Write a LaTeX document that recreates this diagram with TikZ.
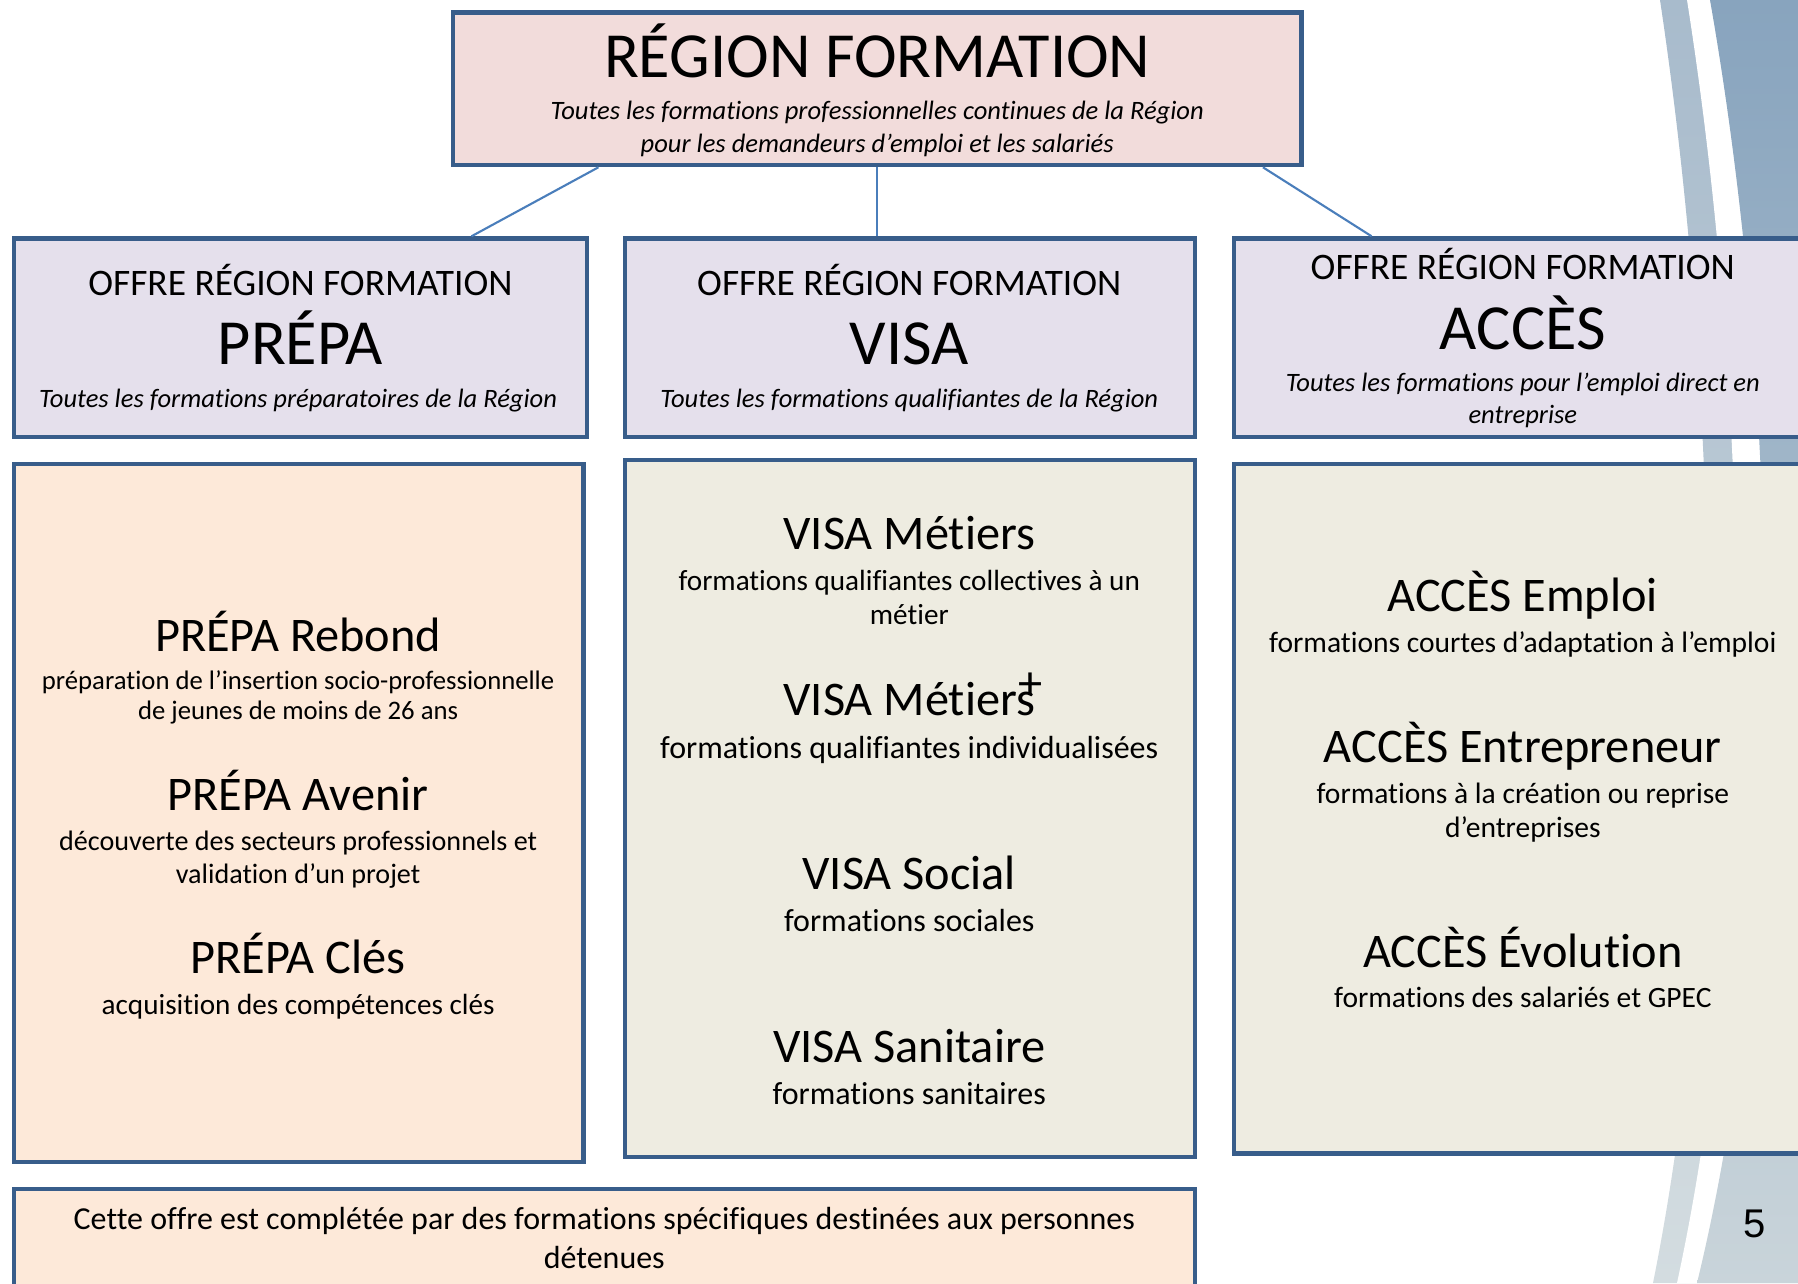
\documentclass[tikz,border=0pt]{standalone}
\usepackage{fontspec}
\setmainfont{Carlito}[Ligatures=NoCommon]
\newfontfamily\pagenumfont{Liberation Sans}
\usetikzlibrary{calc}
\definecolor{boxline}{HTML}{385D8A}
\definecolor{linkline}{HTML}{4A7EBB}
\definecolor{regionfill}{HTML}{F2DCDB}
\definecolor{offrefill}{HTML}{E5E0EC}
\definecolor{prepafill}{HTML}{FDE9D9}
\definecolor{listfill}{HTML}{EEECE1}
\definecolor{swooshtop}{HTML}{A8BBCC}
\definecolor{swooshbot}{HTML}{D3DCE0}
\definecolor{bandtop}{HTML}{88A4BE}
\definecolor{bandbot}{HTML}{C9D4DA}
\begin{document}
\begin{tikzpicture}[scale=0.1,
  box/.style={draw=boxline, line width=1.3pt},
  link/.style={draw=linkline, line width=0.6pt},
  bigtitle/.style={anchor=base, font=\fontsize{18.3}{22}\selectfont},
  offre/.style={anchor=base, font=\fontsize{10.65}{13}\selectfont},
  tagline/.style={anchor=base, font=\fontsize{7.55}{9}\selectfont\itshape},
  entry/.style={anchor=base, font=\fontsize{13.75}{16}\selectfont},
  prepadesc/.style={anchor=base, font=\fontsize{8}{10}\selectfont},
  visadesc/.style={anchor=base, font=\fontsize{9.1}{11}\selectfont},
  accesdesc/.style={anchor=base, font=\fontsize{8.4}{10}\selectfont},
  note/.style={anchor=base, font=\fontsize{9.1}{11}\selectfont}]
\tikzstyle{every node}+=[inner sep=0pt]
\useasboundingbox (0,0) rectangle (179.8,-128.3);
\fill [white] (0,0) rectangle (179.8,-128.3);
% swoosh on the right
\shade [top color=swooshtop, bottom color=swooshbot] (166,0) .. controls (172,-40) and (173,-90) .. (165.3,-128.3) -- (179.8,-128.3) -- (179.8,0) -- cycle;
\fill [white] (168.7,0) .. controls (175,-40) and (176,-90) .. (167.7,-128.3) -- (179.8,-128.3) -- (179.8,0) -- cycle;
\shade [top color=bandtop, bottom color=bandbot] (171,0) .. controls (178,-40) and (179,-90) .. (169.7,-128.3) -- (179.8,-128.3) -- (179.8,0) -- cycle;
% boxes
\node [box, fill=regionfill, minimum width=8.485cm, minimum height=1.524cm] (region) at (87.73,-8.88) {};
\node [box, fill=offrefill, minimum width=5.732cm, minimum height=1.985cm] (prepahead) at (30.04,-33.78) {};
\node [box, fill=offrefill, minimum width=5.70cm, minimum height=1.985cm] (visahead) at (91.0,-33.78) {};
\node [box, fill=offrefill, minimum width=5.78cm, minimum height=1.985cm] (acceshead) at (152.3,-33.78) {};
\node [box, fill=prepafill, minimum width=5.698cm, minimum height=6.98cm] (prepalist) at (29.87,-81.3) {};
\node [box, fill=listfill, minimum width=5.70cm, minimum height=6.97cm] (visalist) at (91.0,-80.85) {};
\node [box, fill=listfill, minimum width=5.78cm, minimum height=6.895cm] (acceslist) at (152.3,-80.875) {};
\node [box, fill=prepafill, minimum width=11.812cm, minimum height=1.2cm] (detenus) at (60.44,-124.9) {};
% connectors
\draw [link] ($(region.south west)!0.173!(region.south east)$) -- ($(prepahead.north west)!0.796!(prepahead.north east)$);
\draw [link] (region.south) -- (region.south |- visahead.north);
\draw [link] ($(region.south west)!0.952!(region.south east)$) -- ($(acceshead.north west)!0.24!(acceshead.north east)$);
% top
\node [bigtitle] (regiontitle) at (87.72,-7.77) {RÉGION FORMATION};
\node [tagline] (regionline1) at (87.72,-11.95) {Toutes les formations professionnelles continues de la Région};
\node [tagline] (regionline2) at (87.72,-15.2) {pour les demandeurs d’emploi et les salariés};
% offre PREPA
\node [offre] (prepaoffre) at (30.04,-29.57) {OFFRE RÉGION FORMATION};
\node [bigtitle] (prepaname) at (30.04,-36.4) {PRÉPA};
\node [tagline] (prepatag) at (29.81,-40.75) {Toutes les formations préparatoires de la Région};
% offre VISA
\node [offre] (visaoffre) at (90.93,-29.57) {OFFRE RÉGION FORMATION};
\node [bigtitle] (visaname) at (90.93,-36.4) {VISA};
\node [tagline] (visatag) at (90.93,-40.75) {Toutes les formations qualifiantes de la Région};
% offre ACCES
\node [offre] (accesoffre) at (152.28,-27.95) {OFFRE RÉGION FORMATION};
\node [bigtitle] (accesname) at (152.28,-34.9) {ACCÈS};
\node [tagline] (accestag1) at (152.28,-39.15) {Toutes les formations pour l’emploi direct en};
\node [tagline] (accestag2) at (152.28,-42.35) {entreprise};
% PREPA list
\node [entry] (rebond) at (29.81,-65.1) {PRÉPA Rebond};
\node [prepadesc, font=\fontsize{7.6}{9}\selectfont] (rebond1) at (29.81,-68.95) {préparation de l’insertion socio-professionnelle};
\node [prepadesc, font=\fontsize{7.6}{9}\selectfont] (rebond2) at (29.81,-71.98) {de jeunes de moins de 26 ans};
\node [entry] (avenir) at (29.81,-81.05) {PRÉPA Avenir};
\node [prepadesc] (avenir1) at (29.81,-85.0) {découverte des secteurs professionnels et};
\node [prepadesc] (avenir2) at (29.81,-88.3) {validation d’un projet};
\node [entry] (cles) at (29.81,-97.35) {PRÉPA Clés};
\node [prepadesc, font=\fontsize{8.3}{10}\selectfont] (cles1) at (29.81,-101.45) {acquisition des compétences clés};
% VISA list
\node [entry] (metiers) at (90.93,-54.96) {VISA Métiers};
\node [visadesc, font=\fontsize{8.3}{10}\selectfont] (metiers1) at (90.93,-59.0) {formations qualifiantes collectives à un};
\node [visadesc, font=\fontsize{8.3}{10}\selectfont] (metiers2) at (90.93,-62.45) {métier};
\node [entry] (metiersplus) at (90.93,-71.59) {VISA Métiers\kern-0.34em\rlap{\raisebox{0.33em}{+}}\kern0.34em};
\node [visadesc] (metiersplus1) at (90.93,-75.85) {formations qualifiantes individualisées};
\node [entry] (social) at (90.93,-88.9) {VISA Social};
\node [visadesc] (social1) at (90.93,-93.17) {formations sociales};
\node [entry] (sanitaire) at (90.93,-106.22) {VISA Sanitaire};
\node [visadesc] (sanitaire1) at (90.93,-110.49) {formations sanitaires};
% ACCES list
\node [entry] (emploi) at (152.28,-61.15) {ACCÈS Emploi};
\node [accesdesc] (emploi1) at (152.28,-65.2) {formations courtes d’adaptation à l’emploi};
\node [entry] (entrepreneur) at (152.28,-76.29) {ACCÈS Entrepreneur};
\node [accesdesc] (entrepreneur1) at (152.28,-80.3) {formations à la création ou reprise};
\node [accesdesc] (entrepreneur2) at (152.28,-83.74) {d’entreprises};
\node [entry] (evolution) at (152.28,-96.7) {ACCÈS Évolution};
\node [accesdesc] (evolution1) at (152.28,-100.75) {formations des salariés et GPEC};
% bottom note and page number
\node [note] (detenus1) at (60.43,-122.95) {Cette offre est complétée par des formations spécifiques destinées aux personnes};
\node [note] (detenus2) at (60.43,-126.85) {détenues};
\node [anchor=base, font=\pagenumfont\fontsize{11.4}{13}\selectfont] (pagenum) at (175.44,-123.78) {5};
\end{tikzpicture}
\end{document}
